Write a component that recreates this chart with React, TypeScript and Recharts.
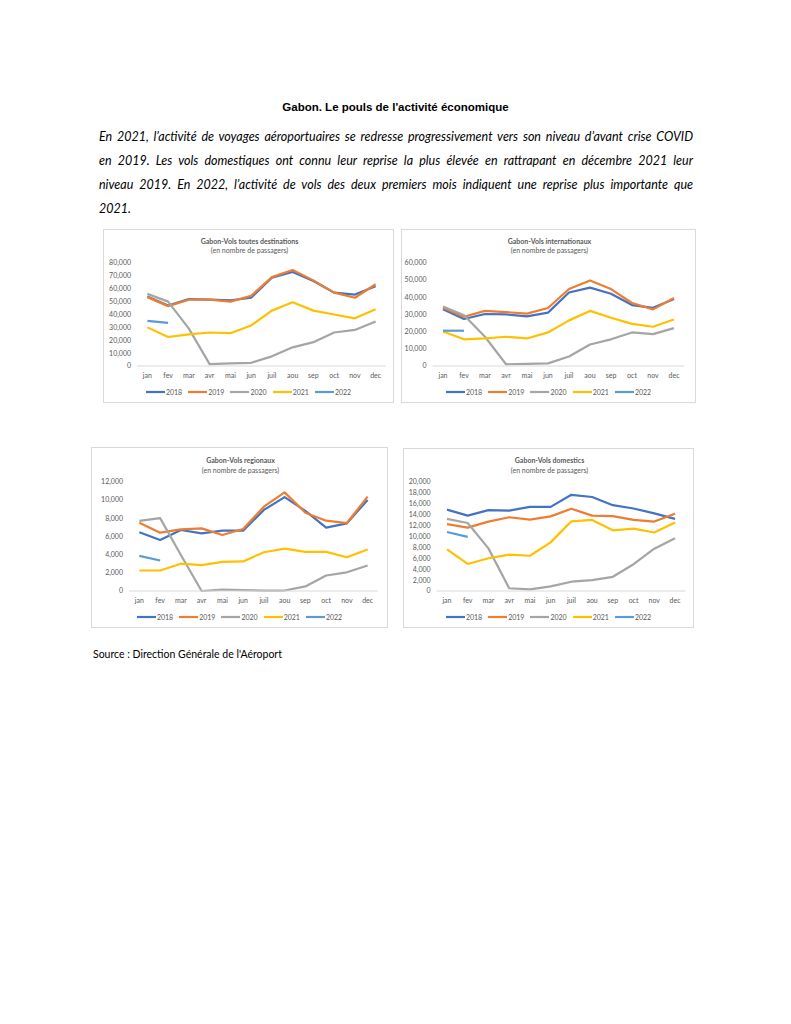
import React from 'react';
import { LineChart, Line, XAxis, YAxis, Legend } from 'recharts';

const months = ['jan', 'fev', 'mar', 'avr', 'mai', 'jun', 'juil', 'aou', 'sep', 'oct', 'nov', 'dec'];
const years = ['2018', '2019', '2020', '2021', '2022'];
const yearColors = ['#4472C4', '#ED7D31', '#A5A5A5', '#FFC000', '#5B9BD5'];

// Gabon-Vols toutes destinations
const toutes2018 = [54000, 47000, 52000, 51500, 51000, 53000, 68500, 73000, 66000, 57000, 55500, 62000];
const toutes2019 = [53500, 46500, 51500, 51500, 50000, 54500, 69000, 74500, 66500, 57000, 53000, 63500];
const toutes2020 = [56000, 50000, 29000, 1500, 2000, 2500, 7500, 14500, 18500, 26000, 28000, 34500];
const toutes2021 = [30000, 22500, 24500, 26000, 25500, 31500, 43000, 49500, 43000, 40000, 37000, 44000];
const toutes2022 = [35000, 33500];
const toutesTicks = [0, 10000, 20000, 30000, 40000, 50000, 60000, 70000, 80000];

// Gabon-Vols internationaux
const inter2018 = [32900, 27300, 30200, 30000, 28800, 31000, 42700, 45500, 42000, 35400, 33800, 38900];
const inter2019 = [33800, 28600, 32000, 31300, 30400, 33700, 44700, 49700, 44700, 36600, 32900, 39500];
const inter2020 = [34500, 29500, 17000, 1000, 1200, 1500, 5500, 12500, 15500, 19500, 18500, 22000];
const inter2021 = [20000, 15500, 16000, 17000, 16000, 19500, 26500, 32000, 28000, 24500, 22800, 27000];
const inter2022 = [20500, 20500];
const interTicks = [0, 10000, 20000, 30000, 40000, 50000, 60000];

// Gabon-Vols regionaux
const region2018 = [6450, 5600, 6700, 6330, 6620, 6620, 8900, 10300, 8800, 6950, 7430, 10000];
const region2019 = [7500, 6400, 6770, 6880, 6150, 6800, 9260, 10830, 8600, 7720, 7460, 10360];
const region2020 = [7700, 8000, 3950, 0, 150, 100, 50, 50, 500, 1700, 2050, 2800];
const region2021 = [2250, 2250, 3000, 2850, 3200, 3250, 4250, 4650, 4300, 4300, 3700, 4550];
const region2022 = [3850, 3350];
const regionTicks = [0, 2000, 4000, 6000, 8000, 10000, 12000];

// Gabon-Vols domestics
const dom2018 = [14900, 13800, 14800, 14700, 15400, 15400, 17600, 17200, 15700, 15100, 14200, 13200];
const dom2019 = [12250, 11600, 12700, 13500, 13050, 13650, 15060, 13800, 13700, 13000, 12700, 14150];
const dom2020 = [13200, 12450, 7800, 500, 300, 850, 1700, 2000, 2600, 4900, 7750, 9650];
const dom2021 = [7600, 4950, 6000, 6650, 6450, 8900, 12750, 13000, 11100, 11400, 10700, 12550];
const dom2022 = [10800, 9900];
const domTicks = [0, 2000, 4000, 6000, 8000, 10000, 12000, 14000, 16000, 18000, 20000];

const buildData = (series: number[][]) =>
  months.map((m, i) => {
    const row: Record<string, any> = { month: m };
    years.forEach((y, k) => {
      row['y' + y] = series[k][i];
    });
    return row;
  });

const FONT = 'Lato, "Noto Sans", sans-serif';
const TXT = '#595959';

type Geo = {
  left: number; top: number; w: number; h: number;
  plotL: number; plotR: number; plotT: number; plotB: number;
  titleY: number; subY: number; legendY: number;
};

const LegendContent = () => (
  <div style={{ display: 'flex', justifyContent: 'center', alignItems: 'center', height: 12, fontFamily: FONT, fontSize: 7, color: TXT }}>
    {years.map((y, k) => (
      <div key={y} style={{ display: 'flex', alignItems: 'center', marginRight: k < years.length - 1 ? 6 : 0 }}>
        <svg width={19} height={4} style={{ display: 'block' }}>
          <line x1={0} y1={2} x2={19} y2={2} stroke={yearColors[k]} strokeWidth={2.2} />
        </svg>
        <span style={{ marginLeft: 1 }}>{y}</span>
      </div>
    ))}
  </div>
);

const MiniChart = ({ geo, title, series, ticks }: { geo: Geo; title: string; series: number[][]; ticks: number[] }) => {
  const data = buildData(series);
  const plotW = geo.plotR - geo.plotL;
  const band = plotW / months.length;
  const legendH = 12;
  const mBottom = geo.h - (geo.legendY + legendH / 2);
  const xAxisH = geo.h - geo.plotB - mBottom - legendH;
  return (
    <div
      style={{
        position: 'absolute', left: geo.left, top: geo.top, width: geo.w, height: geo.h,
        border: '1px solid #D9D9D9', boxSizing: 'border-box', background: '#fff',
      }}
    >
      <div style={{ position: 'absolute', left: 0, width: geo.w, top: geo.titleY - 5, height: 10, lineHeight: '10px', textAlign: 'center', fontFamily: FONT, fontWeight: 700, fontSize: 7, color: TXT }}>
        {title}
      </div>
      <div style={{ position: 'absolute', left: 0, width: geo.w, top: geo.subY - 5, height: 10, lineHeight: '10px', textAlign: 'center', fontFamily: FONT, fontSize: 7, color: TXT }}>
        (en nombre de passagers)
      </div>
      <div style={{ position: 'absolute', left: -1, top: -1 }}>
        <LineChart
          width={geo.w}
          height={geo.h}
          data={data}
          margin={{ top: geo.plotT, right: geo.w - geo.plotR, left: 0, bottom: mBottom }}
        >
          <XAxis
            dataKey="month"
            height={xAxisH}
            padding={{ left: band / 2, right: band / 2 }}
            axisLine={{ stroke: '#D9D9D9', strokeWidth: 1 }}
            tickLine={false}
            tickSize={0}
            tickMargin={7}
            interval={0}
            tick={{ fill: TXT, fontSize: 7, fontFamily: FONT }}
          />
          <YAxis
            width={geo.plotL}
            domain={[ticks[0], ticks[ticks.length - 1]]}
            ticks={ticks}
            interval={0}
            axisLine={false}
            tickLine={false}
            tickSize={0}
            tickMargin={6}
            tickFormatter={(v: number) => v.toLocaleString('en-US')}
            tick={{ fill: TXT, fontSize: 7, fontFamily: FONT }}
          />
          <Legend
            verticalAlign="bottom"
            content={LegendContent}
            wrapperStyle={{ left: 0, width: geo.w, height: legendH, bottom: mBottom }}
          />
          {years.map((y, k) => (
            <Line
              key={y}
              type="linear"
              dataKey={'y' + y}
              name={y}
              stroke={yearColors[k]}
              strokeWidth={2.2}
              dot={false}
              activeDot={false}
              isAnimationActive={false}
              strokeLinejoin="round"
            />
          ))}
        </LineChart>
      </div>
    </div>
  );
};

const geo1: Geo = { left: 103, top: 229, w: 291, h: 174, plotL: 34, plotR: 283, plotT: 34, plotB: 137, titleY: 11, subY: 20, legendY: 163 };
const geo2: Geo = { left: 401, top: 229, w: 295, h: 174, plotL: 31.5, plotR: 283.5, plotT: 33.7, plotB: 137, titleY: 10.5, subY: 20, legendY: 163.3 };
const geo3: Geo = { left: 91, top: 447, w: 297, h: 181, plotL: 38, plotR: 287, plotT: 34.7, plotB: 144, titleY: 12, subY: 22, legendY: 170.3 };
const geo4: Geo = { left: 403, top: 448, w: 291, h: 180, plotL: 33.6, plotR: 282.4, plotT: 33.7, plotB: 143, titleY: 11, subY: 21, legendY: 169.3 };

const paraLines = [
  'En 2021, l\u2019activité de voyages aéroportuaires se redresse progressivement vers son niveau d\u2019avant crise COVID',
  'en 2019. Les vols domestiques ont connu leur reprise la plus élevée en rattrapant en décembre 2021 leur',
  'niveau 2019. En 2022, l\u2019activité de vols des deux premiers mois indiquent une reprise plus importante que',
  '2021.',
];

export default function App() {
  return (
    <div style={{ position: 'absolute', left: 0, top: 0, width: 791, height: 1024, background: '#fff' }}>
      <div style={{ position: 'absolute', left: 0, width: 791, top: 100, height: 14, lineHeight: '14px', textAlign: 'center', fontFamily: '"Liberation Sans", Arial, sans-serif', fontWeight: 700, fontSize: 11.5, color: '#000' }}>
        Gabon. Le pouls de l&apos;activité économique
      </div>
      <div style={{ position: 'absolute', left: 99, top: 125, width: 594, fontFamily: FONT, fontStyle: 'italic', fontSize: 12.5, color: '#000' }}>
        {paraLines.map((t, i) => (
          <div
            key={i}
            style={{
              height: 24, lineHeight: '24px', whiteSpace: 'nowrap',
              textAlign: i < paraLines.length - 1 ? 'justify' : 'left',
              textAlignLast: i < paraLines.length - 1 ? 'justify' : 'left',
            } as React.CSSProperties}
          >
            {t}
          </div>
        ))}
      </div>
      <MiniChart geo={geo1} title="Gabon-Vols toutes destinations" series={[toutes2018, toutes2019, toutes2020, toutes2021, toutes2022]} ticks={toutesTicks} />
      <MiniChart geo={geo2} title="Gabon-Vols internationaux" series={[inter2018, inter2019, inter2020, inter2021, inter2022]} ticks={interTicks} />
      <MiniChart geo={geo3} title="Gabon-Vols regionaux" series={[region2018, region2019, region2020, region2021, region2022]} ticks={regionTicks} />
      <MiniChart geo={geo4} title="Gabon-Vols domestics" series={[dom2018, dom2019, dom2020, dom2021, dom2022]} ticks={domTicks} />
      <div style={{ position: 'absolute', left: 93, top: 647, height: 14, lineHeight: '14px', fontFamily: FONT, fontSize: 10.5, color: '#000' }}>
        Source : Direction Générale de l&apos;Aéroport
      </div>
    </div>
  );
}
